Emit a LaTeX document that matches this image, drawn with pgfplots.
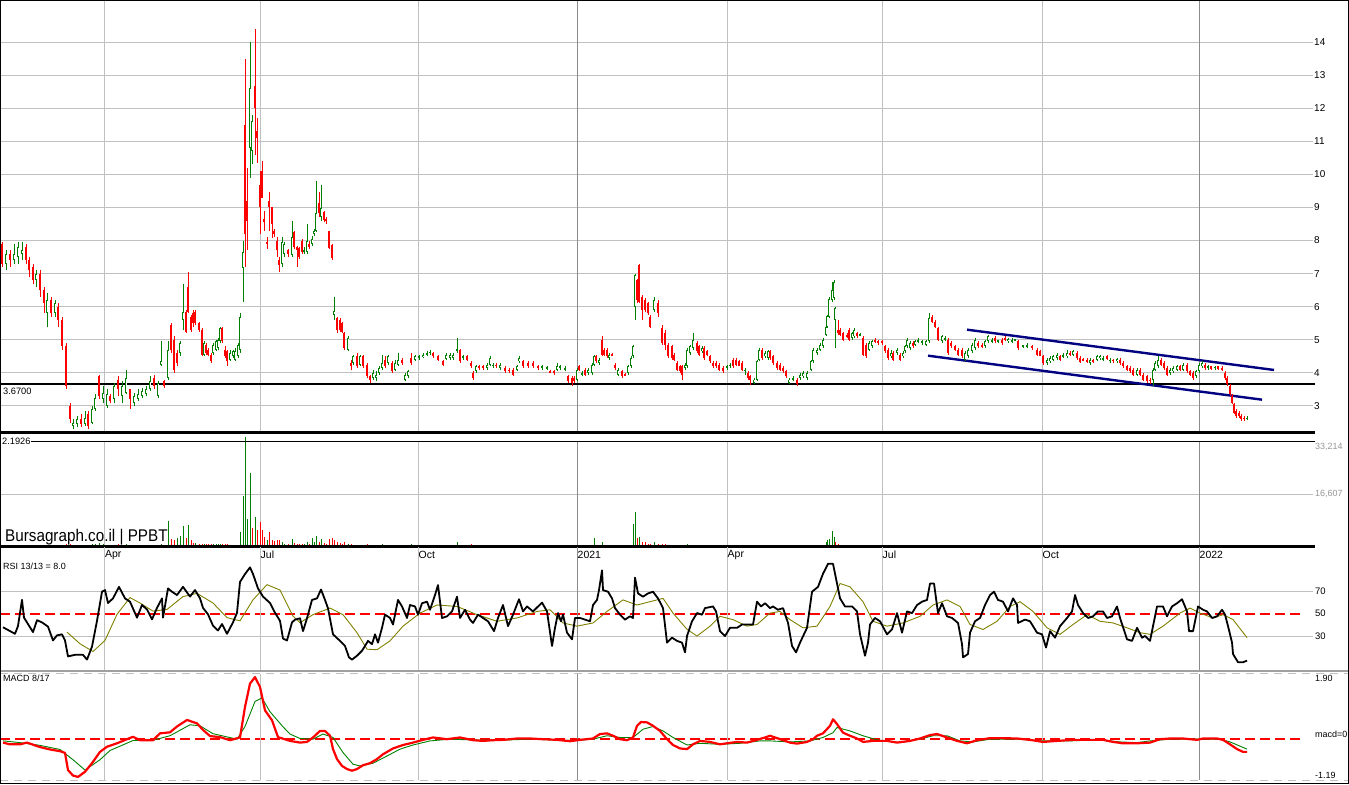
\documentclass[border=0pt]{standalone}
\usepackage{pgfplots}
\pgfplotsset{compat=1.18}
\usepackage{pgfplotstable}
\usepackage{fontspec}
\setmainfont{Liberation Sans}

\definecolor{upg}{RGB}{0,128,0}
\definecolor{dnr}{RGB}{255,0,0}
\definecolor{gridc}{RGB}{192,192,192}
\definecolor{yearc}{RGB}{140,140,140}
\definecolor{navyc}{RGB}{0,0,128}
\definecolor{olivec}{RGB}{128,128,0}
\definecolor{lblgray}{RGB}{150,150,150}
\newcommand\fs[1]{\fontsize{#1}{#1}\selectfont}

% daily candles, x = position along the time axis (px), v = volume, vd = volume colour (1 up)
\pgfplotstableread{
x o h l c v vd
2 7.9 7.95 7.2 7.3 300 0
6 7.3 7.7 7.1 7.6 250 1
10 7.6 7.7 7.2 7.4 200 0
14 7.4 7.9 7.3 7.6 250 1
18 7.5 7.95 7.3 7.8 300 1
22 7.6 7.95 7.4 7.7 200 0
26 7.8 7.9 7.3 7.4 300 0
29 7.4 7.5 6.9 7.1 300 0
33 7.2 7.3 6.7 6.8 350 0
36 6.8 7.1 6.6 7.0 250 1
40 7.0 7.1 6.3 6.5 400 0
44 6.5 6.6 5.8 6.1 450 0
47 5.8 6.4 5.4 6.2 400 1
51 6.2 6.3 5.7 5.8 350 0
55 5.8 6.2 5.7 6.1 300 1
58 6.0 6.1 5.4 5.6 400 0
62 5.6 5.7 4.7 4.8 500 0
66 4.8 4.9 3.5 3.6 700 0
70 3.0 3.1 2.5 2.6 900 0
73 2.4 2.6 2.3 2.5 600 0
77 2.45 2.7 2.35 2.6 500 1
81 2.6 2.75 2.35 2.45 500 0
85 2.45 2.85 2.4 2.65 600 1
88 2.75 2.85 2.3 2.4 600 0
92 2.5 3.0 2.45 2.9 700 1
95 2.9 3.35 2.85 3.25 800 1
99 3.9 3.95 3.2 3.3 1200 1
103 3.2 3.6 3.1 3.4 700 1
107 3.0 3.5 2.95 3.35 600 0
110 3.3 3.35 3.1 3.15 500 0
114 3.2 3.7 3.1 3.6 600 1
118 3.8 3.9 3.3 3.5 700 0
122 3.3 3.75 3.1 3.6 600 1
126 3.4 4.1 3.35 3.85 700 1
130 3.5 3.5 2.9 3.2 600 0
134 3.1 3.4 3.0 3.3 500 1
138 3.2 3.5 3.15 3.35 500 1
142 3.3 3.55 3.25 3.45 450 1
146 3.35 3.6 3.3 3.5 500 1
150 3.5 3.9 3.45 3.75 600 1
154 3.85 3.95 3.5 3.6 500 0
158 3.3 3.75 3.25 3.7 600 1
161 4.25 4.95 4.2 4.35 700 1
164 3.75 3.8 3.55 3.6 500 0
168 3.85 4.95 3.8 4.7 8200 1
171 5.45 5.5 4.6 4.7 2300 0
174 5.0 5.1 4.0 4.1 2000 0
177 4.6 4.7 4.2 4.3 2800 1
180 4.6 4.95 4.5 4.9 3400 1
183 5.6 6.7 5.3 5.85 6500 1
186 5.85 5.9 5.2 5.25 2600 0
188 6.6 7.05 5.8 5.85 6800 1
191 5.7 5.75 5.25 5.3 2000 0
193 5.8 5.9 5.4 5.5 1300 0
195 5.85 5.9 5.45 5.5 1200 1
199 5.5 5.55 5.25 5.3 1000 0
202 5.3 5.35 4.5 4.55 900 0
204 4.55 4.95 4.5 4.9 800 1
206 4.85 4.9 4.55 4.6 700 0
208 4.7 4.75 4.5 4.55 700 0
211 4.55 4.6 4.3 4.35 700 0
213 4.6 4.9 4.55 4.85 800 1
216 4.7 5.0 4.65 4.95 800 1
218 4.75 5.05 4.7 5.0 1000 1
220 4.95 5.4 4.9 5.35 1000 1
222 5.35 5.4 4.9 4.95 800 0
225 4.7 4.8 4.45 4.5 700 0
227 4.65 4.7 4.2 4.35 700 0
230 4.4 4.7 4.35 4.6 600 1
233 4.5 4.7 4.45 4.65 600 1
235 4.4 4.75 4.35 4.65 600 1
238 4.5 4.9 4.45 4.85 600 1
240 4.7 5.8 4.6 5.7 4750 1
243 7.17 8.0 6.15 7.65 16000 1
245 11.5 13.5 7.2 8.2 34800 1
247 9.2 10.2 7.7 8.6 8700 1
250 10.8 14.0 9.9 12.6 23400 1
252 10.7 11.8 10.3 11.6 5900 0
255 12.67 14.4 10.6 12.0 9300 1
257 11.3 11.7 10.35 11.1 5300 0
260 9.68 10.1 8.2 9.0 7800 0
262 10.1 10.4 9.3 9.3 5300 0
264 8.65 8.9 8.3 8.55 3000 0
267 7.95 8.1 7.75 7.9 2200 1
269 9.2 9.47 8.3 9.0 4750 0
272 9.0 9.0 8.07 8.5 2000 0
274 8.3 8.35 8.1 8.2 1800 0
277 8.0 8.1 7.5 7.7 2200 0
279 7.4 7.5 7.06 7.26 2000 0
282 7.3 8.1 7.2 7.97 1500 1
284 7.6 7.95 7.5 7.9 1000 1
288 7.7 7.75 7.5 7.6 1000 0
292 7.55 8.6 7.5 8.1 2400 1
294 8.27 8.3 7.75 7.8 1200 0
297 7.8 7.85 7.2 7.7 900 0
299 7.78 7.8 7.45 7.5 800 0
302 8.0 8.05 7.6 7.66 900 0
304 7.65 7.8 7.6 7.7 800 1
307 7.66 8.5 7.6 8.0 1500 1
309 7.9 8.0 7.75 7.8 900 0
312 7.9 8.15 7.85 8.05 2900 1
314 8.2 8.35 8.15 8.3 1500 1
316 8.3 9.8 8.25 8.83 3300 1
319 9.14 9.48 8.7 8.82 1500 0
321 8.72 9.68 8.6 8.98 2500 1
324 8.87 8.9 8.55 8.62 1200 0
326 8.65 8.7 8.5 8.58 1000 0
329 8.29 8.3 7.75 7.77 2500 0
332 7.87 7.9 7.4 7.47 2900 0
334 5.75 6.3 5.6 5.87 2000 0
337 5.66 5.7 5.2 5.3 1500 0
340 5.6 5.65 5.25 5.3 1200 0
342 5.5 5.55 5.2 5.25 1000 0
344 5.2 5.25 4.7 4.75 1500 0
348 4.7 5.1 4.65 5.05 800 1
351 4.3 4.4 4.1 4.2 900 0
353 4.3 4.55 4.25 4.5 600 1
357 4.5 4.6 4.15 4.2 600 0
360 4.25 4.55 4.2 4.5 500 1
363 4.5 4.55 4.15 4.2 600 0
367 4.25 4.3 3.85 3.9 700 0
370 3.9 3.95 3.7 3.8 600 0
373 3.85 4.1 3.8 4.0 500 1
376 3.85 4.05 3.75 3.95 500 1
379 4.0 4.2 3.95 4.15 600 1
382 4.15 4.55 4.1 4.3 1000 1
385 4.4 4.5 4.15 4.2 500 0
388 4.3 4.55 4.25 4.5 500 1
392 4.3 4.35 4.0 4.05 500 0
395 4.1 4.4 4.05 4.3 400 1
398 4.25 4.6 4.2 4.4 500 1
402 4.4 4.45 4.25 4.3 400 0
405 3.8 4.0 3.75 3.95 500 0
408 3.9 4.1 3.85 4.05 400 1
411 4.45 4.6 4.25 4.3 900 1
415 4.4 4.55 4.35 4.5 400 1
419 4.45 4.55 4.4 4.5 400 1
423 4.48 4.6 4.45 4.55 400 1
427 4.55 4.65 4.5 4.6 400 1
430 4.6 4.7 4.55 4.64 400 1
433 4.6 4.62 4.45 4.5 400 0
438 4.5 4.55 4.35 4.4 400 0
443 4.35 4.4 4.2 4.25 400 0
446 4.42 4.6 4.4 4.55 400 1
450 4.45 4.6 4.4 4.55 300 1
453 4.45 4.6 4.4 4.55 300 1
457 4.66 5.05 4.6 4.72 1600 1
460 4.7 4.72 4.3 4.35 500 0
463 4.45 4.55 4.4 4.5 300 1
467 4.5 4.55 4.35 4.4 300 0
471 4.3 4.35 4.15 4.2 700 0
473 4.0 4.05 3.8 3.85 500 0
476 4.05 4.25 4.0 4.2 300 1
479 4.2 4.25 4.1 4.15 300 0
483 4.2 4.25 4.1 4.15 250 0
487 4.15 4.3 4.1 4.25 250 1
490 4.25 4.5 4.2 4.45 300 1
493 4.2 4.3 4.15 4.25 250 0
496 4.25 4.3 4.15 4.2 250 0
500 4.15 4.3 4.1 4.25 250 1
505 4.15 4.2 4.0 4.05 250 0
509 4.1 4.15 4.0 4.05 250 0
513 4.1 4.15 3.9 3.95 300 0
517 4.1 4.25 4.05 4.2 250 1
519 4.35 4.5 4.3 4.45 300 1
523 4.35 4.4 4.15 4.2 250 0
528 4.3 4.35 4.15 4.2 250 0
533 4.3 4.35 4.15 4.2 250 0
538 4.2 4.25 4.1 4.15 200 0
542 4.15 4.25 4.1 4.2 200 1
547 4.15 4.2 4.1 4.15 200 1
550 4.05 4.1 4.0 4.02 200 0
554 4.05 4.1 3.95 4.0 200 0
557 4.1 4.3 4.05 4.2 200 1
560 4.15 4.25 4.1 4.2 200 1
565 4.1 4.2 4.05 4.15 200 1
568 3.9 3.95 3.7 3.75 500 0
572 3.85 3.9 3.6 3.7 400 0
574 3.85 3.9 3.7 3.75 300 0
577 3.8 4.15 3.75 4.1 300 1
579 4.2 4.25 4.05 4.1 200 0
582 3.95 4.05 3.9 4.0 200 1
585 4.1 4.15 3.9 3.95 200 0
588 4.0 4.15 3.95 4.1 200 1
592 4.0 4.3 3.95 4.25 400 1
594 4.25 4.55 4.2 4.5 2860 1
596 4.5 4.55 4.3 4.35 600 0
599 4.3 4.45 4.25 4.4 400 1
602 5.0 5.1 4.5 4.55 1400 1
604 4.7 4.75 4.5 4.55 500 0
607 4.7 4.75 4.45 4.5 400 0
609 4.45 4.6 4.4 4.55 300 1
612 4.55 4.6 4.5 4.52 300 0
615 4.25 4.3 4.1 4.15 400 0
618 3.95 4.15 3.9 4.1 300 1
622 4.05 4.1 3.85 3.9 400 0
625 3.95 4.0 3.9 3.92 300 0
628 4.0 4.25 3.95 4.2 300 1
631 4.2 4.5 4.15 4.45 400 1
633 4.5 4.85 4.45 4.8 7170 1
635 6.0 7.0 5.6 6.96 10980 1
637 6.8 6.85 6.1 6.2 2600 0
639 7.26 7.3 6.1 6.15 3000 1
642 6.3 6.35 5.6 5.9 1500 0
645 6.2 6.25 5.85 5.9 1500 0
648 6.1 6.15 5.75 5.8 1000 0
650 5.7 5.75 5.35 5.4 1000 0
654 5.9 6.3 5.85 6.2 1500 1
658 6.1 6.2 5.7 5.8 800 0
662 5.35 5.45 4.85 4.9 800 0
665 5.2 5.3 4.7 4.85 700 0
668 4.85 4.9 4.45 4.5 600 0
672 4.8 4.85 4.4 4.45 600 0
674 4.55 4.6 4.35 4.4 500 0
677 4.3 4.35 4.05 4.1 500 0
680 4.2 4.25 4.0 4.05 500 0
682 4.2 4.25 3.78 3.95 500 0
685 4.15 4.3 4.1 4.25 400 1
687 4.2 4.75 4.15 4.7 900 1
690 4.6 4.85 4.55 4.8 500 1
693 4.75 5.2 4.7 5.0 600 1
697 4.9 4.95 4.6 4.65 500 0
699 4.8 4.85 4.5 4.55 400 0
702 4.65 4.8 4.6 4.75 400 1
704 4.75 4.8 4.4 4.45 400 0
707 4.65 4.7 4.5 4.55 400 1
710 4.5 4.55 4.3 4.35 400 0
713 4.3 4.35 4.15 4.2 400 0
716 4.3 4.35 4.15 4.2 300 0
719 4.25 4.3 4.05 4.1 300 0
723 4.15 4.2 4.0 4.05 300 0
727 4.15 4.25 4.1 4.2 300 1
730 4.2 4.3 4.15 4.25 300 1
733 4.4 4.45 4.15 4.2 300 0
736 4.4 4.45 4.2 4.25 300 1
739 4.35 4.4 4.2 4.22 300 0
742 4.3 4.35 4.05 4.1 300 0
745 4.05 4.15 3.95 4.1 300 1
748 4.0 4.05 3.8 3.85 300 0
750 3.9 3.95 3.64 3.8 400 0
754 3.7 3.85 3.65 3.8 300 1
757 3.8 4.4 3.75 4.35 400 1
759 4.4 4.75 4.35 4.7 500 1
762 4.7 4.75 4.4 4.45 400 0
765 4.5 4.65 4.45 4.6 300 1
768 4.45 4.7 4.4 4.65 300 1
770 4.65 4.7 4.4 4.45 300 0
773 4.5 4.55 4.25 4.3 300 0
777 4.3 4.35 4.1 4.15 300 0
780 4.25 4.3 4.05 4.1 300 0
783 4.15 4.2 4.0 4.05 300 0
786 4.05 4.1 3.85 3.9 300 0
789 3.7 3.85 3.65 3.8 300 0
793 3.8 3.9 3.75 3.85 300 1
797 3.8 3.85 3.6 3.65 400 0
800 3.85 4.0 3.8 3.95 300 1
803 3.9 4.05 3.85 4.0 300 1
807 3.85 4.05 3.8 4.0 300 0
811 4.1 4.4 4.05 4.35 400 1
813 4.35 4.75 4.3 4.7 600 1
817 4.6 4.75 4.55 4.7 500 0
820 4.7 4.9 4.65 4.85 500 1
823 4.8 5.05 4.75 5.0 600 1
826 5.15 5.45 5.1 5.4 1500 1
827 5.4 5.75 5.35 5.73 2000 1
829 5.7 6.3 5.65 6.23 2500 1
832 6.2 6.75 6.15 6.5 5000 1
834 6.25 6.8 6.2 6.75 3000 1
835 5.6 6.0 4.75 5.97 1500 0
838 5.3 5.6 5.15 5.2 800 0
840 5.3 5.35 5.1 5.15 600 0
843 5.2 5.25 4.95 5.0 500 0
847 5.15 5.2 5.05 5.1 400 1
849 5.3 5.35 4.95 5.0 500 0
852 5.05 5.25 5.0 5.2 400 1
854 5.1 5.35 5.05 5.3 400 1
857 5.2 5.25 5.05 5.1 300 0
860 5.15 5.2 5.1 5.17 300 1
863 5.05 5.1 4.5 4.55 500 0
866 4.85 4.9 4.45 4.5 400 0
869 4.7 4.95 4.65 4.9 400 1
872 4.8 5.0 4.75 4.95 300 1
875 5.0 5.05 4.9 4.95 300 0
878 4.95 5.0 4.85 4.9 300 0
882 4.95 5.0 4.85 4.9 300 0
885 4.8 4.85 4.6 4.65 300 0
888 4.7 4.75 4.4 4.45 300 0
891 4.5 4.7 4.45 4.6 300 1
893 4.6 4.65 4.35 4.4 300 0
897 4.6 4.75 4.55 4.7 300 1
900 4.55 4.6 4.35 4.4 300 0
903 4.5 4.65 4.45 4.6 300 1
905 4.65 4.85 4.6 4.8 300 1
907 4.8 5.05 4.75 5.0 400 1
910 4.75 4.95 4.7 4.9 300 0
913 4.9 4.95 4.75 4.8 300 0
915 4.85 5.0 4.8 4.95 300 1
918 4.95 5.05 4.9 5.0 300 1
922 4.9 5.0 4.85 4.95 300 0
926 4.85 5.0 4.8 4.95 300 1
929 4.95 5.8 4.9 5.66 600 1
932 5.7 5.75 5.5 5.55 500 0
935 5.55 5.6 5.35 5.4 400 0
938 5.35 5.4 4.95 5.0 500 0
942 4.95 5.15 4.9 5.1 300 1
945 5.0 5.1 4.95 5.05 300 0
948 5.0 5.05 4.55 4.6 400 0
951 4.9 4.95 4.75 4.8 300 1
955 4.8 4.85 4.65 4.7 300 0
958 4.7 4.75 4.5 4.55 300 0
962 4.7 4.75 4.45 4.5 300 0
965 4.4 4.65 4.35 4.6 300 1
968 4.5 4.75 4.45 4.7 300 1
972 4.65 4.9 4.6 4.85 300 1
975 4.75 5.05 4.7 5.0 300 1
978 4.9 4.95 4.75 4.8 300 0
982 4.85 4.9 4.75 4.8 200 0
985 4.8 5.0 4.75 4.95 200 1
988 4.95 5.15 4.9 5.1 300 1
992 4.95 5.05 4.9 5.0 200 0
995 5.05 5.1 4.9 4.95 200 0
998 4.95 5.0 4.9 4.98 200 1
1002 5.0 5.05 4.85 4.9 200 0
1005 5.05 5.1 4.95 5.0 200 1
1008 4.95 5.05 4.9 5.02 200 1
1012 4.95 5.05 4.9 5.0 200 0
1015 4.98 5.02 4.95 5.0 150 1
1018 4.95 5.0 4.7 4.75 300 0
1023 4.8 4.85 4.75 4.82 150 1
1027 4.8 4.9 4.75 4.85 150 1
1032 4.8 4.85 4.7 4.75 200 0
1037 4.7 4.75 4.5 4.55 200 0
1040 4.65 4.7 4.5 4.52 200 0
1043 4.5 4.55 4.25 4.3 200 0
1047 4.3 4.45 4.25 4.4 150 1
1050 4.35 4.5 4.3 4.45 150 1
1053 4.4 4.55 4.35 4.5 150 1
1057 4.45 4.6 4.4 4.55 150 1
1060 4.5 4.55 4.35 4.4 150 0
1063 4.5 4.6 4.45 4.55 150 1
1067 4.5 4.7 4.45 4.6 150 1
1070 4.6 4.65 4.5 4.55 150 0
1073 4.55 4.7 4.5 4.65 150 1
1077 4.6 4.65 4.4 4.45 200 0
1080 4.45 4.5 4.3 4.32 200 0
1083 4.4 4.45 4.35 4.38 150 1
1087 4.4 4.45 4.3 4.32 150 0
1090 4.3 4.45 4.25 4.4 150 1
1093 4.4 4.42 4.3 4.32 150 0
1097 4.4 4.55 4.35 4.5 150 1
1100 4.45 4.55 4.4 4.52 150 1
1103 4.4 4.5 4.35 4.45 150 0
1107 4.5 4.55 4.4 4.42 150 0
1110 4.35 4.45 4.3 4.4 150 0
1113 4.4 4.42 4.3 4.35 150 0
1117 4.35 4.45 4.3 4.42 150 1
1120 4.4 4.45 4.25 4.3 150 0
1123 4.3 4.35 4.15 4.2 200 0
1127 4.2 4.25 4.05 4.1 200 0
1130 4.15 4.2 4.0 4.05 200 0
1133 4.1 4.15 3.9 3.95 200 0
1137 3.95 4.15 3.9 4.1 150 1
1140 4.1 4.15 3.9 3.95 200 0
1143 3.95 4.0 3.75 3.8 200 0
1147 3.9 3.95 3.7 3.75 200 0
1150 3.8 3.85 3.65 3.75 200 0
1153 3.8 4.15 3.6 4.1 300 1
1155 4.1 4.35 4.05 4.3 300 1
1158 4.2 4.5 4.15 4.4 300 1
1161 4.4 4.45 4.2 4.25 200 0
1164 4.3 4.35 4.1 4.15 200 0
1167 4.15 4.2 3.9 3.95 200 0
1170 4.0 4.15 3.95 4.1 150 1
1173 4.05 4.2 4.0 4.15 150 1
1177 4.1 4.25 4.05 4.2 150 1
1180 4.2 4.25 4.05 4.1 150 0
1183 4.1 4.3 4.05 4.25 150 1
1187 4.25 4.3 4.0 4.05 200 0
1190 4.05 4.1 3.9 3.95 200 0
1193 4.0 4.05 3.8 3.85 200 0
1196 3.9 4.1 3.85 4.05 150 1
1199 4.05 4.3 4.0 4.25 200 1
1202 4.2 4.35 4.15 4.3 150 1
1205 4.25 4.3 4.1 4.15 150 0
1208 4.15 4.25 4.1 4.2 150 1
1211 4.2 4.22 4.1 4.12 150 0
1215 4.15 4.2 4.1 4.18 150 1
1218 4.2 4.22 4.1 4.12 150 0
1222 4.15 4.2 4.05 4.1 150 0
1225 4.0 4.05 3.8 3.85 200 0
1227 3.85 3.9 3.6 3.65 300 0
1230 3.6 3.65 3.3 3.35 400 0
1232 3.3 3.35 3.05 3.1 400 0
1234 3.05 3.1 2.75 2.8 500 0
1236 2.85 2.9 2.65 2.7 400 0
1239 2.8 2.85 2.65 2.7 300 0
1241 2.7 2.75 2.55 2.6 300 0
1244 2.65 2.7 2.55 2.6 300 0
1247 2.6 2.7 2.58 2.65 300 1
}\price

\pgfplotstableread{
x r
3 37.9
15 32
18 39
22 62.7
24 46.6
28 40.8
33 33.5
37 44.3
42 42.3
48 38.5
53 26
57 30.6
62 31.5
65 26
68 11.6
75 13
83 13
87 8.7
92 20.4
97 43.7
102 70
105 71.5
108 59.8
113 64
119 74.4
125 64
130 61
137 46.6
142 58
147 54
152 45
157 55.4
162 64
163 46.6
168 73
172 70
177 67
183 74.4
190 65.6
195 71.5
200 64
203 55.4
208 49.6
213 39.3
218 35
222 40.8
227 32
233 42.3
237 51
240 78.8
245 86
250 92
253 86
258 73
263 65.6
270 59.8
275 51
280 43.7
283 27.7
287 26
292 42.3
295 44.8
300 46
303 34.4
307 46
312 62.6
317 64
321 72
325 62.6
328 55
333 31.5
340 25.6
345 21
349 10.7
352 8.7
357 12.2
362 16.7
365 21
368 25.6
372 22.6
375 31.5
378 24
382 37.4
385 49.3
390 46.3
393 40.4
398 62.6
402 56.7
407 46.3
410 58
415 56.7
418 49.3
422 59.6
427 61
430 53.7
435 67
438 76
442 46.3
447 47.8
452 52.2
457 65.5
460 46.3
465 53.7
470 44.8
473 41.8
478 49.3
483 46.3
488 43.3
494 34.4
498 46.3
503 58
508 38.9
513 49.3
519 63.2
523 52.2
527 56.7
533 52.2
542 60.2
547 52.2
552 21
555 37.4
558 50.7
561 43.3
563 49.3
567 33
572 27
575 46.3
580 46.3
585 44.8
590 43.3
593 58
597 62.6
599 71.5
602 89.3
603 71.5
608 70
612 64
615 55.2
620 49.3
625 44.8
630 47.8
633 46.3
635 82.7
638 68.5
643 65.5
648 68.5
653 70
658 64
663 55.2
667 24
672 28.5
677 25.6
682 24
685 15.2
687 30
692 43.3
697 50.7
702 49.3
705 55.2
713 56.7
716 52.2
720 34.4
725 30
730 37.4
737 37.4
742 40.4
748 40.4
753 40.4
757 61
761 56.7
765 59.6
770 55.2
773 56.7
778 53.7
783 55.2
788 41.8
792 21
796 15.2
800 24
807 37.4
812 70
818 74.4
823 86.3
828 95.2
833 95.2
837 77.4
840 64
845 56.7
852 56.7
857 52.2
860 31.5
865 12.2
868 24
870 40.4
875 46.3
880 43.3
887 31.5
892 36
897 50.7
902 33
907 52.2
912 50.7
917 58
922 61
927 62.6
930 77.4
934 77.4
938 50.7
942 59.6
947 47.8
952 46.3
958 41.8
962 22.6
963 10.7
968 13.7
970 33
975 43.3
980 46.3
985 58
990 67
994 70
998 62.6
1003 61
1008 52.2
1013 64
1017 58
1018 41.8
1025 44.8
1030 43.3
1037 33
1042 31.5
1046 19.6
1050 34.4
1055 28.5
1060 38.9
1067 46.3
1072 52.2
1075 67
1078 58
1083 50.7
1088 46.3
1093 47.8
1098 52.2
1103 52.2
1107 46.3
1112 47.8
1117 56.7
1120 46.3
1127 27
1132 25.6
1137 37.4
1142 28.5
1145 30
1150 25.6
1157 56.7
1163 56.7
1167 47.8
1172 56.7
1177 59.6
1182 63.2
1187 52.2
1189 34.4
1193 34.4
1198 56.7
1203 53.7
1207 52.2
1212 46.3
1217 47.8
1222 53.7
1225 49.3
1228 38.9
1232 24
1233 13.7
1238 6.3
1243 6.3
1247 7.8
}\rsi

\pgfplotstableread{
x s
67 33.5
80 23
93 16
105 26
117 49.6
130 64.7
140 59.8
153 52.5
167 54
183 65.6
197 68.5
213 59.8
227 46.6
240 43.7
253 62.7
267 76.4
280 71.5
293 48
300 42
313 49.3
330 55.2
343 49.3
357 33
367 18.1
377 17.6
390 25.6
403 38.9
420 50.7
437 58
457 56.7
477 49.3
497 43.3
517 46.3
537 52.2
550 53.7
563 41.8
577 38.9
593 41.8
607 52.2
623 62.6
637 58
650 61
663 64
673 50.7
687 36
697 30
710 38.9
720 47.8
733 44.8
747 38.9
757 40.4
770 50.7
780 52.2
790 44.8
803 37.4
817 38.9
830 56.7
840 77.4
850 74.4
863 61
873 43.3
887 38.9
903 41.8
920 47.8
933 58
947 62.6
960 56.7
970 40.4
983 35.9
997 43.3
1010 56.7
1020 61
1033 52.2
1047 37.4
1060 31.5
1073 40.4
1087 49.3
1100 43.3
1113 41.8
1127 37.4
1140 33
1150 31.5
1163 38.9
1180 50.7
1190 55.2
1200 50.7
1213 46.3
1223 49.3
1233 44.8
1247 28.5
}\rsisig

\pgfplotstableread{
x m
3 -0.1
10 -0.15
20 -0.15
27 -0.1
40 -0.23
50 -0.3
60 -0.35
65 -0.4
68 -0.9
73 -1.06
78 -1.1
85 -0.95
92 -0.7
100 -0.37
107 -0.22
117 -0.12
127 0.0
133 0.07
140 -0.03
153 -0.03
160 0.17
170 0.2
177 0.37
187 0.56
197 0.46
203 0.27
210 0.09
220 0.06
230 -0.03
240 0.05
245 0.94
250 1.62
255 1.81
260 1.52
265 0.84
272 0.55
278 0.06
290 -0.05
300 -0.1
307 -0.08
313 0.05
320 0.24
325 0.24
330 0.1
333 -0.29
337 -0.58
342 -0.78
347 -0.87
352 -0.92
357 -0.87
363 -0.76
370 -0.7
377 -0.58
383 -0.44
393 -0.27
403 -0.17
413 -0.1
423 -0.02
433 0.05
447 0
460 0.05
473 -0.03
483 -0.05
493 -0.03
503 -0.02
517 0.02
530 0.02
543 0
557 -0.02
570 -0.06
580 -0.02
593 0.02
600 0.15
607 0.17
613 0.1
620 0
627 -0.03
633 0.05
637 0.39
641 0.5
647 0.49
653 0.39
660 0.24
667 0
673 -0.17
680 -0.27
687 -0.29
693 -0.15
700 -0.05
710 -0.08
720 -0.15
727 -0.12
737 -0.08
747 -0.1
757 -0.02
765 0.05
770 0.1
780 0
790 -0.1
797 -0.13
807 -0.08
813 0
817 0.1
823 0.17
830 0.39
833 0.58
837 0.44
843 0.19
850 0.1
857 0.02
863 -0.08
873 -0.05
887 -0.05
897 -0.1
910 -0.05
920 0.02
930 0.12
937 0.15
947 0.05
957 -0.05
967 -0.12
977 -0.03
990 0.03
1003 0.03
1017 0.02
1030 -0.02
1043 -0.08
1057 -0.05
1073 -0.02
1090 -0.02
1103 -0.02
1113 -0.08
1123 -0.12
1137 -0.12
1150 -0.1
1160 0
1170 0.02
1183 0.02
1197 -0.02
1203 0.02
1217 0.02
1223 -0.02
1230 -0.15
1237 -0.29
1243 -0.37
1247 -0.37
}\macd

\pgfplotstableread{
x g
3 -0.05
20 -0.1
40 -0.18
60 -0.3
73 -0.6
85 -0.9
100 -0.6
110 -0.33
133 -0.04
153 -0.03
170 0.1
190 0.42
200 0.39
213 0.16
237 0.0
245 0.37
255 1.1
262 1.2
270 0.8
283 0.36
290 0.15
300 0.02
313 0
323 0.15
333 0.05
343 -0.39
353 -0.73
360 -0.78
373 -0.7
387 -0.49
400 -0.29
413 -0.17
430 -0.05
450 0
470 -0.02
500 -0.03
530 0
560 -0.03
580 -0.03
593 0
607 0.1
620 0.05
633 0.05
643 0.29
653 0.37
663 0.24
673 0.05
687 -0.17
700 -0.12
720 -0.15
740 -0.12
760 -0.05
770 -0.05
790 -0.08
810 -0.05
823 0.05
833 0.19
837 0.34
850 0.24
863 0.1
877 -0.02
900 -0.1
920 0
933 0.1
947 0.1
960 -0.05
973 -0.08
990 0
1017 0
1043 -0.05
1070 -0.05
1100 -0.02
1120 -0.08
1137 -0.1
1150 -0.05
1170 0
1200 0
1220 0
1230 -0.08
1247 -0.29
}\macdsig

\pgfplotsset{
  panel/.style={scale only axis, width=1313bp, xmin=0, xmax=1313,
    anchor=south west, clip=false, axis line style={draw=none},
    major tick length=0pt, scaled y ticks=false,
    xtick={104.5,260,418,727,882,1042}, xticklabels={},
    extra x ticks={577,1199}, extra x tick labels={},
    extra x tick style={xmajorgrids=true, major grid style={draw=yearc, line width=1bp}},
    xmajorgrids, major grid style={draw=gridc, line width=1bp},
    /pgf/number format/assume math mode=true},
  wick/.style={draw=none, mark=none, forget plot, error bars/.cd, y dir=both, y explicit,
    error mark=none, error bar style={draw=#1, line width=1bp}},
  body/.style 2 args={draw=none, mark=none, forget plot, error bars/.cd, y dir=both, y explicit,
    error mark=none, error bar style={draw=#1, line width=#2}},
}

\begin{document}
\begin{tikzpicture}[x=1bp,y=1bp]
\useasboundingbox (0,0) rectangle (1349,784);

% price panel
\begin{axis}[panel, at={(0bp,351.3bp)}, height=432.7bp, ymin=2.1926, ymax=15.27,
  ytick={3,...,14}, ymajorgrids, yticklabel pos=right,
  yticklabel style={anchor=west, inner sep=1bp, font=\fs{10}}]
\addplot[black, line width=2.6bp] coordinates {(0,3.67) (1315,3.67)};
\addplot[black, line width=2.6bp] coordinates {(0,2.1926) (1315,2.1926)};
\addplot[navyc, line width=2.4bp] coordinates {(967,5.306) (1274,4.088)};
\addplot[navyc, line width=2.4bp] coordinates {(928,4.52) (1262,3.19)};
% wicks
\addplot[wick=upg] table[x=x, y expr={\thisrow{c}<\thisrow{o} ? nan : (\thisrow{h}+\thisrow{l})/2},
  y error expr={(\thisrow{h}-\thisrow{l})/2}] {\price};
\addplot[wick=dnr] table[x=x, y expr={\thisrow{c}<\thisrow{o} ? (\thisrow{h}+\thisrow{l})/2 : nan},
  y error expr={(\thisrow{h}-\thisrow{l})/2}] {\price};
% bodies
\addplot[body={upg}{2.6bp}] table[x=x, y expr={\thisrow{c}<\thisrow{o} ? nan : (\thisrow{o}+\thisrow{c})/2},
  y error expr={max(abs(\thisrow{c}-\thisrow{o})/2,0.025)}] {\price};
\addplot[body={white}{1bp}] table[x=x, y expr={\thisrow{c}<\thisrow{o} ? nan : (\thisrow{o}+\thisrow{c})/2},
  y error expr={max(abs(\thisrow{c}-\thisrow{o})/2-0.03,0)}] {\price};
\addplot[body={dnr}{2.6bp}] table[x=x, y expr={\thisrow{c}<\thisrow{o} ? (\thisrow{o}+\thisrow{c})/2 : nan},
  y error expr={max(abs(\thisrow{c}-\thisrow{o})/2,0.025)}] {\price};
\end{axis}

% volume panel
\begin{axis}[panel, at={(0bp,237.3bp)}, height=105bp, ymin=0, ymax=33214,
  ytick={16607}, yticklabels={}, ymajorgrids]
\addplot[ycomb, draw=upg, line width=1bp, mark=none] table[x=x, y expr={\thisrow{vd}<1 ? nan : \thisrow{v}}] {\price};
\addplot[ycomb, draw=dnr, line width=1bp, mark=none] table[x=x, y expr={\thisrow{vd}<1 ? \thisrow{v} : nan}] {\price};
\addplot[black, line width=1bp] coordinates {(31,33214) (1315,33214)};
\addplot[black, line width=2.6bp] coordinates {(0,0) (1315,0)};
\end{axis}

% red dashed level lines (RSI 50 and MACD 0), drawn as short solid dashes under the curves
\foreach \d in {0,15,...,1300} {
  \fill[dnr] (\d,169.4) rectangle (\d+10,171.0);
  \fill[dnr] (\d,44.0) rectangle (\d+10,45.6);
}

% RSI panel
\begin{axis}[panel, at={(0bp,113bp)}, height=124bp, ymin=-1.6, ymax=110.4,
  ytick={30,70}, yticklabels={}, ymajorgrids]
\addplot[color=olivec, line width=0.9bp] table[x=x, y=s] {\rsisig};
\addplot[color=black, line width=1.8bp, line join=round] table[x=x, y=r] {\rsi};
\end{axis}

% MACD panel
\begin{axis}[panel, at={(0bp,4bp)}, height=106bp, ymin=-1.19, ymax=1.90, ytick=\empty]
\addplot[color=upg, line width=0.9bp] table[x=x, y=g] {\macdsig};
\addplot[color=dnr, line width=2.2bp, line join=round] table[x=x, y=m] {\macd};
\end{axis}

% panel separators and frame
\draw[color={rgb,255:red,160;green,160;blue,160}, line width=2bp] (0,113) -- (1349,113);
\draw[gridc, line width=1bp, dash pattern=on 8bp off 6bp] (0,110) -- (1349,110);
\draw[gridc, line width=1bp, dash pattern=on 8bp off 6bp] (0,4) -- (1349,4);
\draw[black, line width=1bp] (0.5,0.5) rectangle (1348.5,783.5);

% labels
\node[anchor=west, inner sep=0, font=\fs{9.3}] at (3,393) {3.6700};
\node[anchor=west, inner sep=0, font=\fs{9.3}] at (2,343) {2.1926};
\node[anchor=north west, inner sep=0, font=\fs{9}, text=lblgray] at (1315,340.5) {33,214};
\node[anchor=west, inner sep=0, font=\fs{9}, text=lblgray] at (1315,290) {16,607};
\node[anchor=west, inner sep=0, font=\fs{17}] at (5,247) {\scalebox{0.9}[1]{Bursagraph.co.il | PPBT}};
\foreach \xx/\mm in {104.5/Apr, 260/Jul, 418/Oct, 577/2021, 727/Apr, 882/Jul, 1042/Oct, 1199/2022}
  \node[anchor=west, inner sep=0, font=\fs{10.5}] at (\xx+0.5,229) {\mm};
\node[anchor=west, inner sep=0, font=\fs{9}] at (3,218) {RSI 13/13 = 8.0};
\node[anchor=west, inner sep=0, font=\fs{9.5}] at (1315,192.3) {70};
\node[anchor=west, inner sep=0, font=\fs{9.5}] at (1315,171) {50};
\node[anchor=west, inner sep=0, font=\fs{9.5}] at (1315,148) {30};
\node[anchor=west, inner sep=0, font=\fs{9}] at (3,106) {MACD 8/17};
\node[anchor=north west, inner sep=0, font=\fs{9}] at (1315,108.5) {1.90};
\node[anchor=south west, inner sep=0, font=\fs{9}] at (1315,46) {macd=0};
\node[anchor=south west, inner sep=0, font=\fs{9}] at (1315,5) {-1.19};
\end{tikzpicture}
\end{document}
